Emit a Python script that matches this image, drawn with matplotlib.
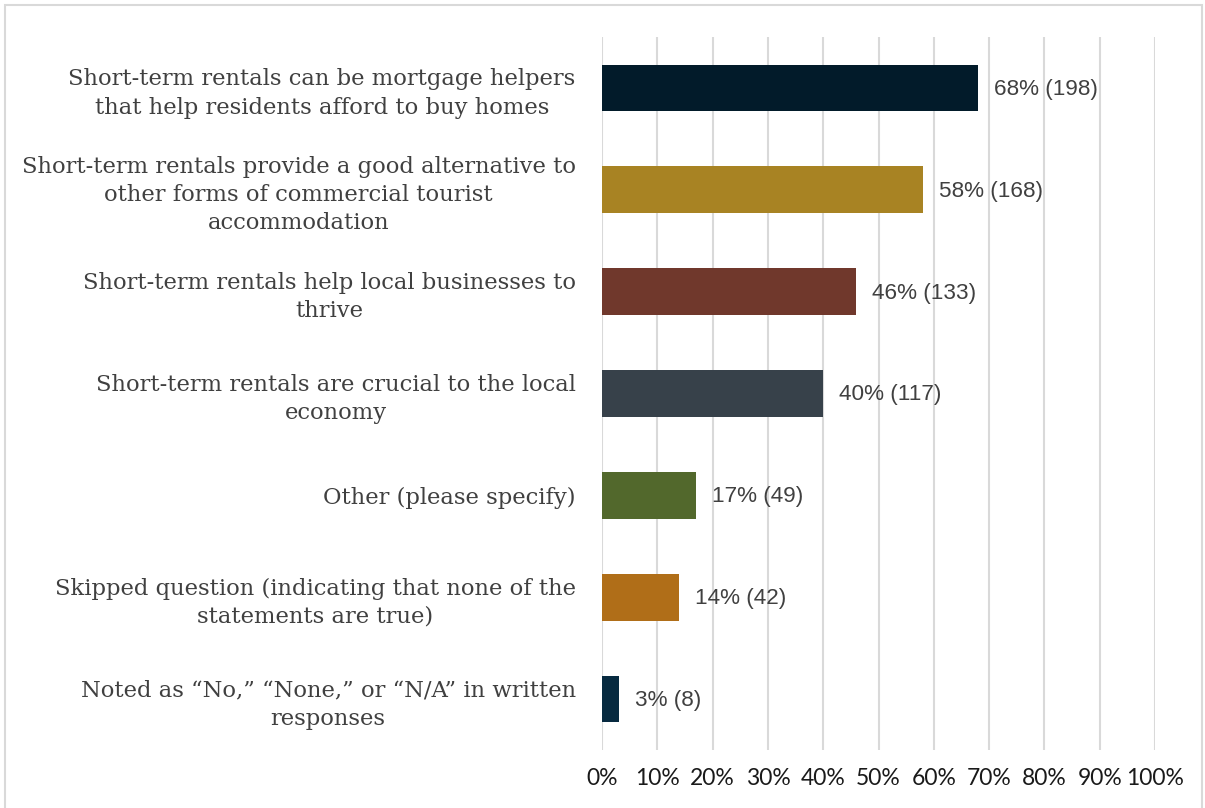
import matplotlib.pyplot as plt
from matplotlib.patches import Rectangle

# survey answers, top to bottom
categories = [
    "Short-term rentals can be mortgage helpers\nthat help residents afford to buy homes",
    "Short-term rentals provide a good alternative to\nother forms of commercial tourist\naccommodation",
    "Short-term rentals help local businesses to\nthrive",
    "Short-term rentals are crucial to the local\neconomy",
    "Other (please specify)",
    "Skipped question (indicating that none of the\nstatements are true)",
    "Noted as \u201cNo,\u201d \u201cNone,\u201d or \u201cN/A\u201d in written\nresponses",
]
percents = [68, 58, 46, 40, 17, 14, 3]
counts = [198, 168, 133, 117, 49, 42, 8]
colors = ["#021b2a", "#a88323", "#70382c", "#37414a", "#52682c", "#b06e18", "#072a40"]
tick_values = list(range(0, 101, 10))

fig = plt.figure(figsize=(12.05, 8.08), dpi=100)
ax = fig.add_axes([0.4996, 0.0718, 0.459, 0.8824])

ypos = list(range(len(categories)))
ax.barh(ypos, percents, height=0.46, color=colors, zorder=3)
ax.set_ylim(len(categories) - 0.5, -0.5)
ax.set_xlim(0, 100)

for y, p, c in zip(ypos, percents, counts):
    ax.annotate(f"{p}% ({c})", xy=(p, y), xytext=(11.5, -1), textcoords="offset points",
                va="center", ha="left", fontsize=16.2, color="#404040",
                family="Liberation Sans")

ax.set_yticks(ypos)
ax.set_yticklabels(categories, fontsize=16.3, color="#404040", family="DejaVu Serif",
                   ha="right", multialignment="center", linespacing=1.36)
ax.tick_params(axis="y", length=0, pad=19)
ax.set_xticks(tick_values)
ax.set_xticklabels([f"{v}%" for v in tick_values], fontsize=16.5, color="#1a1a1a",
                   family="Lato")
ax.tick_params(axis="x", length=0, pad=13)

ax.grid(axis="x", color="#d9d9d9", linewidth=1.5, zorder=0)
for s in ax.spines.values():
    s.set_visible(False)

# light frame round the chart
fig.patches.append(Rectangle((5 / 1205, -0.01), 1197 / 1205, 1.0 - 5 / 808 + 0.01,
                             transform=fig.transFigure, fill=False,
                             edgecolor="#d9d9d9", linewidth=1.5))

fig.savefig("out.png", dpi=100)
